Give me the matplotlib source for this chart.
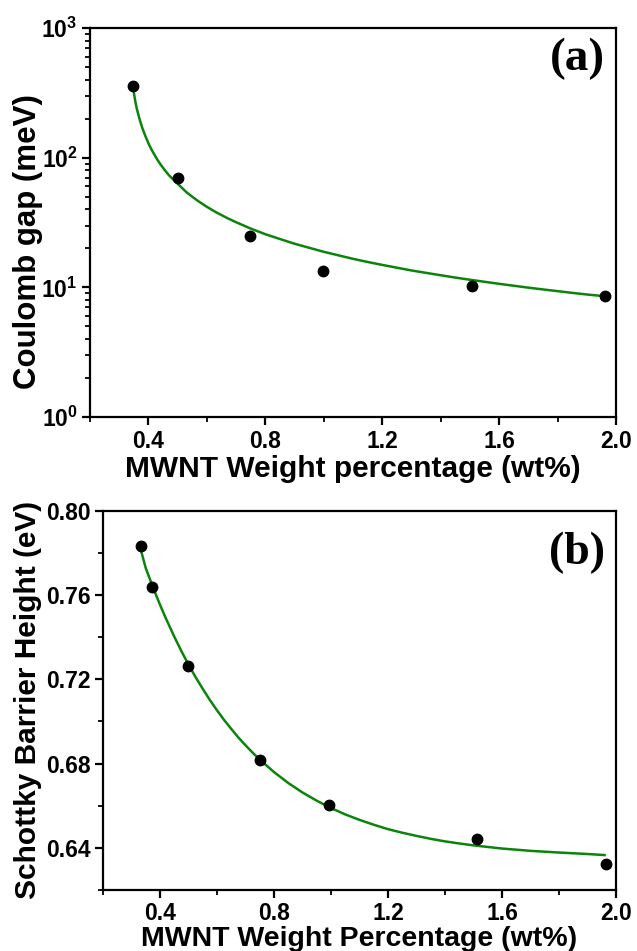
import matplotlib
matplotlib.use("Agg")
import matplotlib.pyplot as plt
from matplotlib.ticker import MultipleLocator, LogLocator, NullFormatter, FixedLocator

plt.rcParams['font.family'] = ['Liberation Sans', 'DejaVu Sans']
plt.rcParams['font.weight'] = 'bold'
plt.rcParams['mathtext.fontset'] = 'custom'
plt.rcParams['mathtext.rm'] = 'Liberation Sans:bold'
plt.rcParams['mathtext.bf'] = 'Liberation Sans:bold'
plt.rcParams['mathtext.it'] = 'Liberation Sans:bold'

# ---- Panel (a): Coulomb gap ----
a_x = [0.347, 0.50, 0.749, 0.998, 1.508, 1.961]
a_y = [359, 70, 24.8, 13.3, 10.2, 8.55]
a_fit_x = [0.347, 0.355, 0.36, 0.365, 0.37, 0.375, 0.38, 0.39, 0.40, 0.41, 0.42, 0.43,
           0.44, 0.46, 0.47, 0.50, 0.53, 0.55, 0.57, 0.60, 0.63, 0.67, 0.70, 0.75,
           0.80, 0.85, 0.90, 1.0, 1.1, 1.15, 1.2, 1.3, 1.4, 1.45, 1.5, 1.6, 1.7,
           1.75, 1.85, 1.9, 1.96]
a_fit_y = [350, 272, 240, 217, 197, 181, 167, 146, 129, 116, 106, 97,
           89.6, 78, 73.3, 63, 54.2, 50, 46.3, 41.8, 38.1, 34.2, 31.8, 28.4,
           25.7, 23.6, 21.7, 18.8, 16.6, 15.7, 14.9, 13.5, 12.4, 11.9, 11.45, 10.65, 9.95,
           9.64, 9.07, 8.81, 8.55]

# ---- Panel (b): Schottky barrier height ----
b_x = [0.333, 0.371, 0.500, 0.752, 0.994, 1.513, 1.965]
b_y = [0.7832, 0.7636, 0.7264, 0.6819, 0.6602, 0.6444, 0.6325]
b_fit_x = [0.333, 0.35, 0.36, 0.38, 0.40, 0.42, 0.45, 0.475, 0.50, 0.525, 0.55, 0.575,
           0.60, 0.625, 0.65, 0.675, 0.70, 0.725, 0.75, 0.80, 0.85, 0.90, 0.95, 1.0,
           1.05, 1.1, 1.15, 1.2, 1.25, 1.3, 1.35, 1.4, 1.45, 1.5, 1.6, 1.7, 1.8, 1.9, 1.96]
b_fit_y = [0.7813, 0.7728, 0.7692, 0.7621, 0.7554, 0.7491, 0.7403, 0.7334, 0.7270, 0.7210,
           0.7155, 0.7102, 0.7053, 0.7007, 0.6965, 0.6924, 0.6887, 0.6852, 0.6819, 0.6760,
           0.6708, 0.6663, 0.6624, 0.6589, 0.6559, 0.6533, 0.6510, 0.6489, 0.6472, 0.6457,
           0.6443, 0.6431, 0.6421, 0.6412, 0.6397, 0.6386, 0.6378, 0.6371, 0.6366]

x_tick_labels = ['0.4', '0.8', '1.2', '1.6', '2.0']
x_ticks = [0.4, 0.8, 1.2, 1.6, 2.0]
b_y_ticks = [0.64, 0.68, 0.72, 0.76, 0.80]
b_y_tick_labels = ['0.64', '0.68', '0.72', '0.76', '0.80']

GREEN = '#0b840b'
TICK_FS = 16.5

fig = plt.figure(figsize=(6.37, 9.51), dpi=100)
ax1 = fig.add_axes([0.1413, 0.5615, 0.8257, 0.409])
ax2 = fig.add_axes([0.1617, 0.0641, 0.8053, 0.3988])

for ax in (ax1, ax2):
    for s in ax.spines.values():
        s.set_linewidth(1.6)
    ax.tick_params(which='major', direction='out', length=6, width=1.6,
                   labelsize=TICK_FS, pad=3, top=False, right=False)
    ax.tick_params(which='minor', direction='out', length=3.5, width=1.3,
                   top=False, right=False)
    ax.set_xlim(0.2, 2.0)
    ax.xaxis.set_major_locator(FixedLocator(x_ticks))
    ax.xaxis.set_minor_locator(MultipleLocator(0.2))
ax2.tick_params(axis='x', which='major', pad=2.5)

# panel a
ax1.set_yscale('log')
ax1.set_ylim(1, 1000)
ax1.yaxis.set_major_locator(LogLocator(base=10, numticks=10))
ax1.yaxis.set_minor_locator(LogLocator(base=10, subs=range(2, 10), numticks=10))
ax1.yaxis.set_minor_formatter(NullFormatter())
ax1.plot(a_fit_x, a_fit_y, color=GREEN, lw=1.8, zorder=2, solid_joinstyle='round')
ax1.plot(a_x, a_y, 'o', color='black', ms=7.5, zorder=3)
ax1.set_xticklabels(x_tick_labels)
ax1.set_xlabel('MWNT Weight percentage (wt%)', fontsize=21.5, fontweight='bold', labelpad=1.5)
ax1.set_ylabel('Coulomb gap (meV)', fontsize=22.5, fontweight='bold')
ax1.yaxis.label.set_verticalalignment('center')
ax1.yaxis.set_label_coords(-0.118, 0.45)
ax1.text(0.979, 0.975, '(a)', transform=ax1.transAxes, ha='right', va='top',
         fontsize=34, fontweight='bold', family=['Liberation Serif', 'DejaVu Serif'])

# panel b
ax2.set_ylim(0.62, 0.80)
ax2.yaxis.set_major_locator(FixedLocator(b_y_ticks))
ax2.yaxis.set_minor_locator(MultipleLocator(0.02))
ax2.plot(b_fit_x, b_fit_y, color=GREEN, lw=1.8, zorder=2, solid_joinstyle='round')
ax2.plot(b_x, b_y, 'o', color='black', ms=7.5, zorder=3)
ax2.set_xticklabels(x_tick_labels)
ax2.set_yticklabels(b_y_tick_labels)
ax2.set_xlabel('MWNT Weight Percentage (wt%)', fontsize=20.5, fontweight='bold', labelpad=0.5)
ax2.set_ylabel('Schottky Barrier Height (eV)', fontsize=21.5, fontweight='bold')
ax2.yaxis.label.set_verticalalignment('center')
ax2.yaxis.set_label_coords(-0.147, 0.5)
ax2.text(0.979, 0.945, '(b)', transform=ax2.transAxes, ha='right', va='top',
         fontsize=33, fontweight='bold', family=['Liberation Serif', 'DejaVu Serif'])

for ax in (ax1, ax2):
    for lbl in ax.get_xticklabels() + ax.get_yticklabels():
        lbl.set_fontweight('bold')

fig.savefig('out.png', dpi=100)
